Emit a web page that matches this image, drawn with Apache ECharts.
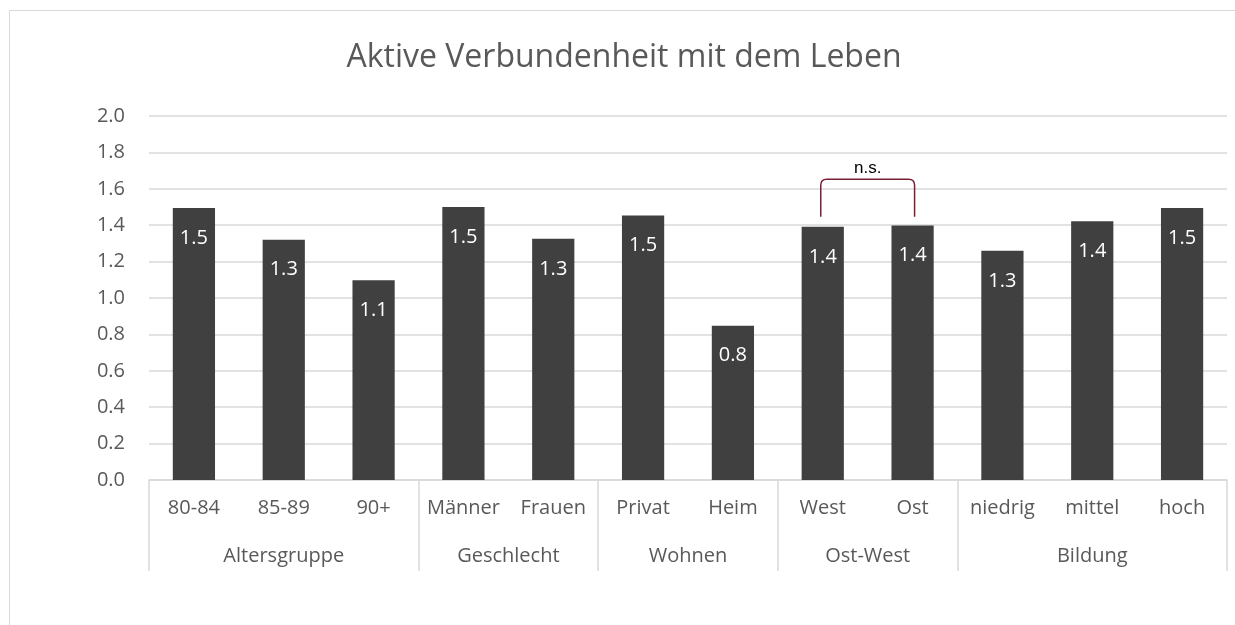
<!DOCTYPE html>
<html>
<head>
<meta charset="utf-8">
<script src="https://cdn.jsdelivr.net/npm/echarts@6/dist/echarts.min.js"></script>
<style>
  html, body { margin: 0; padding: 0; background: #fff; }
  #chart { width: 1235px; height: 625px; }
</style>
</head>
<body>
<div id="chart"></div>
<script>
var categories = ['80-84', '85-89', '90+', 'Männer', 'Frauen', 'Privat', 'Heim', 'West', 'Ost', 'niedrig', 'mittel', 'hoch'];
var values = [1.495, 1.32, 1.098, 1.50, 1.325, 1.453, 0.848, 1.391, 1.398, 1.259, 1.422, 1.495];
var groups = ['Altersgruppe', 'Geschlecht', 'Wohnen', 'Ost-West', 'Bildung'];
var groupSizes = [3, 2, 2, 2, 3];
// significance bracket: [from index, to index, low, high, text]
var bracket = [7, 8, 1.447, 1.652, 'n.s.'];

var FONT = 'Open Sans';
var GREY = '#595959';

// group boundaries / centres on a 0..n scale
var bounds = [0], centres = [];
groupSizes.forEach(function (s, i) {
  var b = bounds[i];
  bounds.push(b + s);
  centres.push(b + s / 2);
});

var chart = echarts.init(document.getElementById('chart'));

var option = {
  animation: false,
  backgroundColor: '#fff',
  textStyle: { fontFamily: FONT },
  title: {
    text: 'Aktive Verbundenheit mit dem Leben',
    left: 619,
    textAlign: 'center',
    top: 37,
    textStyle: { fontFamily: FONT, fontSize: 32, fontWeight: 'normal', color: GREY }
  },
  graphic: [{
    type: 'rect',
    shape: { x: 9.5, y: 10.5, width: 1400, height: 800 },
    style: { fill: 'none', stroke: '#d9d9d9', lineWidth: 1 },
    silent: true
  }],
  grid: { left: 149, right: 8, top: 116, bottom: 145 },
  xAxis: [{
    type: 'category',
    data: categories,
    position: 'bottom',
    axisLine: { lineStyle: { color: '#d9d9d9', width: 1.5 } },
    axisTick: { show: false },
    axisLabel: { color: GREY, fontSize: 20, margin: 18, interval: 0 }
  }, {
    type: 'value',
    min: 0,
    max: categories.length,
    position: 'bottom',
    axisLine: { show: false },
    splitLine: { show: false },
    axisTick: {
      show: true,
      customValues: bounds,
      length: 91,
      lineStyle: { color: '#d9d9d9', width: 1.5 }
    },
    axisLabel: {
      color: GREY,
      fontSize: 20,
      margin: 66,
      customValues: centres,
      formatter: function (v) {
        var i = centres.indexOf(v);
        return i >= 0 ? groups[i] : '';
      }
    }
  }],
  yAxis: {
    type: 'value',
    min: 0,
    max: 2,
    interval: 0.2,
    axisLine: { show: false },
    axisTick: { show: false },
    splitLine: { lineStyle: { color: '#d9d9d9', width: 1.5 } },
    axisLabel: {
      color: GREY,
      fontSize: 20,
      margin: 24,
      formatter: function (v) { return v.toFixed(1); }
    }
  },
  series: [{
    type: 'bar',
    xAxisIndex: 0,
    data: values,
    barWidth: '47%',
    itemStyle: { color: '#404040' },
    label: {
      show: true,
      position: 'insideTop',
      distance: 20,
      color: '#fff',
      fontSize: 20,
      formatter: function (p) { return p.value.toFixed(1); }
    }
  }, {
    type: 'custom',
    xAxisIndex: 0,
    data: [bracket],
    z: 10,
    renderItem: function (params, api) {
      var a = api.coord([api.value(0), api.value(2)]);
      var b = api.coord([api.value(1), api.value(3)]);
      var x1 = a[0] - 2, x2 = b[0] + 2, yLow = a[1], yTop = b[1];
      var r = 6;
      return {
        type: 'group',
        children: [{
          type: 'path',
          shape: {
            pathData: 'M' + x1 + ' ' + yLow +
              ' L' + x1 + ' ' + (yTop + r) +
              ' Q' + x1 + ' ' + yTop + ' ' + (x1 + r) + ' ' + yTop +
              ' L' + (x2 - r) + ' ' + yTop +
              ' Q' + x2 + ' ' + yTop + ' ' + x2 + ' ' + (yTop + r) +
              ' L' + x2 + ' ' + yLow
          },
          style: { fill: 'none', stroke: '#7a1f35', lineWidth: 1.5 }
        }, {
          type: 'text',
          x: (x1 + x2) / 2,
          y: yTop - 3,
          style: {
            text: bracket[4],
            fill: '#000',
            font: '17px "Liberation Sans"',
            textAlign: 'center',
            textVerticalAlign: 'bottom'
          }
        }]
      };
    }
  }]
};

chart.setOption(option);
</script>
</body>
</html>
